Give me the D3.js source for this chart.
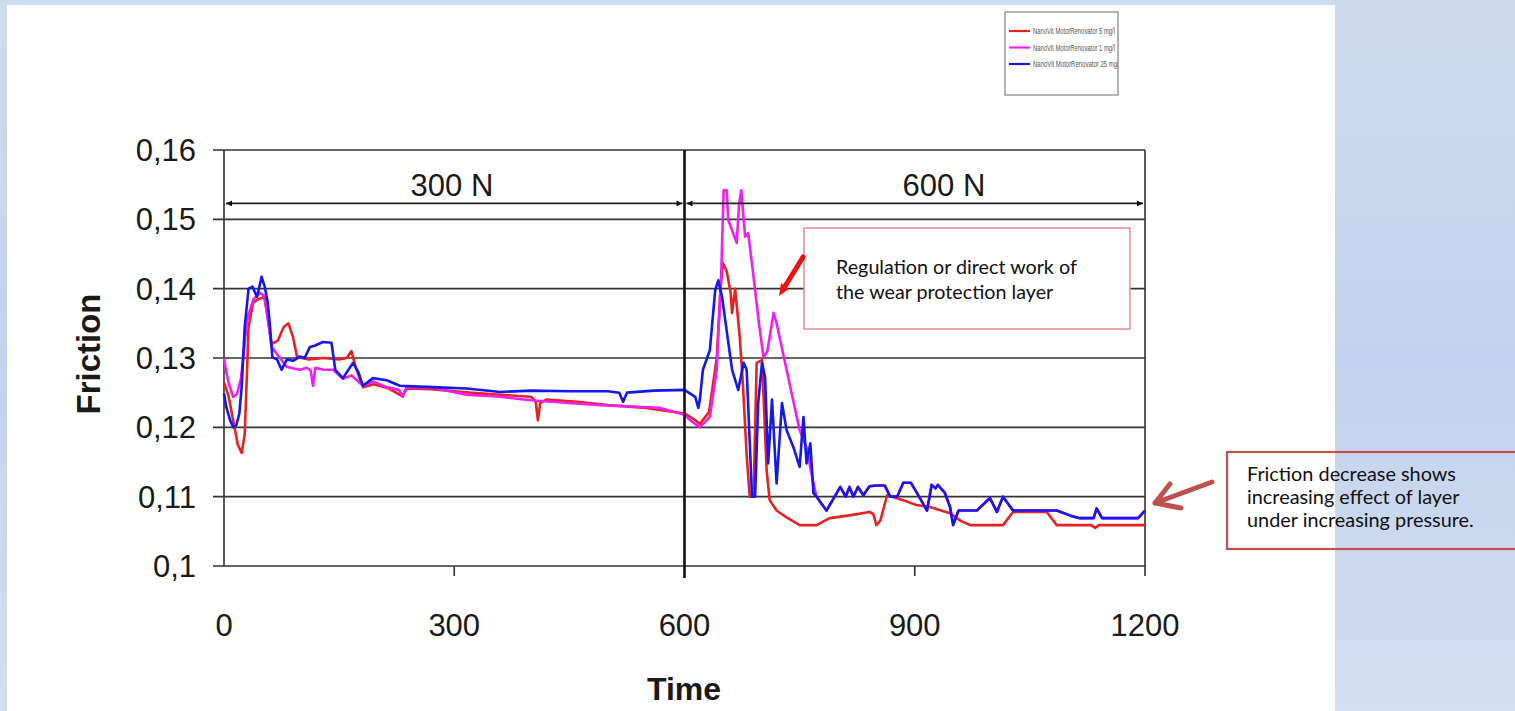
<!DOCTYPE html>
<html>
<head>
<meta charset="utf-8">
<script src="https://cdn.jsdelivr.net/npm/d3@7"></script>
<style>
  html, body { margin: 0; padding: 0; }
  body { width: 1515px; height: 711px; overflow: hidden; }
</style>
</head>
<body>
<script>
// Friction over time, three concentrations
const red5 = [[0,0.1265],[6,0.1245],[12,0.121],[18,0.1175],[23,0.1163],[27,0.119],[30,0.128],[32,0.1345],[38,0.138],[45,0.1385],[53,0.1388],[58,0.135],[62,0.132],[70,0.1325],[78,0.1345],[84,0.135],[90,0.133],[95,0.1302],[110,0.1298],[130,0.13],[150,0.1298],[160,0.13],[166,0.131],[172,0.1285],[181,0.1258],[195,0.1262],[215,0.1256],[232,0.1245],[238,0.1256],[270,0.1255],[320,0.125],[360,0.1247],[400,0.1244],[406,0.1238],[409,0.121],[412,0.1235],[420,0.124],[460,0.1237],[500,0.1232],[550,0.1228],[600,0.122],[612,0.1212],[620,0.1205],[632,0.1222],[642,0.13],[647,0.14],[650,0.1437],[655,0.1425],[660,0.1395],[662,0.1365],[666,0.14],[672,0.133],[676,0.1264],[681,0.116],[685,0.11],[690,0.11],[694,0.1293],[701,0.1297],[707,0.1138],[711,0.1095],[720,0.108],[733,0.107],[750,0.1059],[772,0.1059],[789,0.1069],[815,0.1073],[841,0.1078],[846,0.1075],[850,0.1059],[855,0.1065],[864,0.1102],[885,0.1095],[902,0.1088],[920,0.1085],[946,0.1076],[960,0.1065],[972,0.1059],[1015,0.1059],[1028,0.1078],[1072,0.1078],[1085,0.1059],[1130,0.1059],[1135,0.1055],[1140,0.1059],[1200,0.1059]];

const pink1 = [[0,0.13],[3,0.128],[6,0.1264],[12,0.1244],[17,0.1248],[22,0.127],[25,0.13],[30,0.1355],[38,0.1384],[47,0.1394],[52,0.139],[56,0.1365],[62,0.1316],[73,0.13],[82,0.1287],[99,0.1283],[108,0.1286],[113,0.1282],[116,0.126],[119,0.1286],[130,0.1283],[142,0.1283],[155,0.127],[166,0.1275],[181,0.126],[194,0.1266],[212,0.1258],[228,0.1254],[233,0.1244],[238,0.1258],[272,0.1257],[316,0.1247],[360,0.1244],[400,0.1239],[450,0.1235],[490,0.1232],[530,0.123],[568,0.1228],[600,0.1218],[610,0.1208],[620,0.12],[633,0.1215],[642,0.1283],[648,0.1427],[651,0.1542],[655,0.1542],[657,0.1499],[668,0.1466],[671,0.152],[674,0.1542],[679,0.1475],[683,0.148],[690,0.1417],[697,0.135],[703,0.1301],[708,0.131],[716,0.1365],[720,0.135],[733,0.1283],[750,0.1196],[759,0.1171],[766,0.113],[772,0.11],[785,0.108],[803,0.1114],[810,0.11],[815,0.1114],[820,0.11],[826,0.1114],[833,0.1102],[841,0.1115],[850,0.1116],[861,0.1116],[868,0.11],[877,0.11],[885,0.112],[895,0.112],[903,0.1105],[916,0.108],[922,0.1117],[927,0.1112],[930,0.1117],[939,0.1106],[946,0.1085],[950,0.1059],[957,0.108],[981,0.108],[998,0.1098],[1007,0.1078],[1015,0.11],[1028,0.108],[1085,0.108],[1102,0.1073],[1115,0.1069],[1133,0.1069],[1137,0.1083],[1144,0.1069],[1191,0.1069],[1200,0.108]];

const blue25 = [[0,0.1249],[3,0.1229],[8,0.121],[12,0.12],[16,0.1203],[20,0.122],[23,0.1258],[27,0.1345],[32,0.14],[37,0.1403],[43,0.1388],[49,0.1417],[53,0.1403],[57,0.138],[60,0.1345],[63,0.1301],[69,0.1298],[75,0.1283],[82,0.1298],[90,0.1296],[99,0.1302],[105,0.13],[112,0.1316],[119,0.1318],[129,0.1323],[140,0.1322],[145,0.1283],[155,0.1271],[168,0.1293],[175,0.128],[181,0.126],[194,0.1271],[212,0.1268],[229,0.126],[272,0.1258],[316,0.1256],[360,0.1251],[400,0.1253],[450,0.1252],[500,0.1252],[515,0.125],[520,0.1237],[525,0.125],[560,0.1253],[600,0.1254],[614,0.1244],[618,0.1228],[620,0.124],[624,0.1283],[633,0.1311],[640,0.1398],[644,0.1412],[649,0.1388],[653,0.1355],[662,0.1283],[670,0.1254],[677,0.1293],[681,0.1283],[688,0.11],[692,0.11],[696,0.1235],[701,0.1293],[705,0.1272],[709,0.1148],[714,0.124],[720,0.1119],[727,0.1235],[733,0.1196],[742,0.1171],[750,0.1143],[755,0.1215],[759,0.1148],[764,0.1177],[768,0.1105],[772,0.11],[785,0.108],[803,0.1114],[810,0.11],[815,0.1114],[820,0.11],[826,0.1114],[833,0.1102],[841,0.1115],[850,0.1116],[861,0.1116],[868,0.11],[877,0.11],[885,0.112],[895,0.112],[903,0.1105],[916,0.108],[922,0.1117],[927,0.1112],[930,0.1117],[939,0.1106],[946,0.1085],[950,0.1059],[957,0.108],[981,0.108],[998,0.1098],[1007,0.1078],[1015,0.11],[1028,0.108],[1085,0.108],[1102,0.1073],[1115,0.1069],[1133,0.1069],[1137,0.1083],[1144,0.1069],[1191,0.1069],[1200,0.108]];

const seriesNames = ["NanoVit MotorRenovator 5 mg/l", "NanoVit MotorRenovator 1 mg/l", "NanoVit MotorRenovator 25 mg/l"];
const seriesColors = ["#e8231f", "#f01ef0", "#1616f2"];
const xTicks = [0, 300, 600, 900, 1200];
const yTicks = [0.1, 0.11, 0.12, 0.13, 0.14, 0.15, 0.16];
const phases = [
  { label: "300 N", from: 0, to: 600, labelAt: 297 },
  { label: "600 N", from: 600, to: 1200, labelAt: 938 }
];
const note1 = ["Regulation or direct work of", "the wear protection layer"];
const note2 = ["Friction decrease shows", "increasing effect of layer", "under increasing pressure."];

const width = 1515, height = 711;

const svg = d3.select("body").append("svg")
  .attr("width", width)
  .attr("height", height)
  .style("display", "block");

// slide background + white picture area
const defs = svg.append("defs");
const grad = defs.append("linearGradient")
  .attr("id", "bg").attr("x1", 0).attr("y1", 0).attr("x2", 0).attr("y2", 1);
grad.append("stop").attr("offset", "0%").attr("stop-color", "#cfdcef");
grad.append("stop").attr("offset", "50%").attr("stop-color", "#c3d3ed");
grad.append("stop").attr("offset", "100%").attr("stop-color", "#d2ddf0");

svg.append("rect").attr("width", width).attr("height", height).attr("fill", "url(#bg)");
svg.append("rect").attr("x", 7).attr("y", 5).attr("width", 1328).attr("height", 706).attr("fill", "#fff");

// arrow heads for the load phases
defs.append("marker")
  .attr("id", "tri").attr("viewBox", "0 0 10 10")
  .attr("refX", 10).attr("refY", 5)
  .attr("markerWidth", 9).attr("markerHeight", 6)
  .attr("markerUnits", "userSpaceOnUse")
  .attr("orient", "auto-start-reverse")
  .append("path").attr("d", "M0,0L10,5L0,10Z").attr("fill", "#111");

// scales
const x = d3.scaleLinear().domain([0, 1200]).range([224, 1145]);
const y = d3.scaleLinear().domain([0.1, 0.16]).range([566, 150]);

const fmt = v => String(v).replace(".", ",");

// horizontal grid lines (with small ticks on the left)
svg.append("g")
  .selectAll("line")
  .data(yTicks)
  .join("line")
  .attr("x1", x(0) - 11)
  .attr("x2", x(1200))
  .attr("y1", d => y(d))
  .attr("y2", d => y(d))
  .attr("stroke", "#333")
  .attr("stroke-width", 1.6);

// left / right frame
svg.append("g")
  .selectAll("line")
  .data([0, 1200])
  .join("line")
  .attr("x1", d => x(d)).attr("x2", d => x(d))
  .attr("y1", y(0.16)).attr("y2", d => y(0.1) + (d === 0 ? 0 : 10))
  .attr("stroke", "#333")
  .attr("stroke-width", 1.6);

// x ticks
svg.append("g")
  .selectAll("line")
  .data(xTicks.filter(d => d !== 0 && d !== 600 && d !== 1200))
  .join("line")
  .attr("x1", d => x(d)).attr("x2", d => x(d))
  .attr("y1", y(0.1)).attr("y2", y(0.1) + 10)
  .attr("stroke", "#333")
  .attr("stroke-width", 1.6);

// y tick labels
svg.append("g")
  .selectAll("text")
  .data(yTicks)
  .join("text")
  .attr("x", 196)
  .attr("y", d => y(d))
  .attr("dy", "0.36em")
  .attr("text-anchor", "end")
  .style("font-family", "'Liberation Sans', Arial, sans-serif")
  .style("font-size", "31px")
  .style("fill", "#1a1a1a")
  .text(fmt);

// x tick labels
svg.append("g")
  .selectAll("text")
  .data(xTicks)
  .join("text")
  .attr("x", d => x(d))
  .attr("y", 636)
  .attr("text-anchor", "middle")
  .style("font-family", "'Liberation Sans', Arial, sans-serif")
  .style("font-size", "31px")
  .style("fill", "#1a1a1a")
  .text(d => d);

// axis titles
svg.append("text")
  .attr("x", 684).attr("y", 700)
  .attr("text-anchor", "middle")
  .style("font-family", "'Liberation Sans', Arial, sans-serif")
  .style("font-weight", "bold")
  .style("font-size", "32px")
  .style("fill", "#1a1a1a")
  .text("Time");

svg.append("text")
  .attr("transform", "translate(100,354) rotate(-90)")
  .attr("text-anchor", "middle")
  .style("font-family", "'Liberation Sans', Arial, sans-serif")
  .style("font-weight", "bold")
  .style("font-size", "33px")
  .style("fill", "#1a1a1a")
  .text("Friction");

// series lines
const line = d3.line().x(d => x(d[0])).y(d => y(d[1]));
svg.append("g")
  .selectAll("path")
  .data([red5, pink1, blue25])
  .join("path")
  .attr("d", line)
  .attr("fill", "none")
  .attr("stroke", (d, i) => seriesColors[i])
  .attr("stroke-width", 2.6)
  .attr("stroke-linejoin", "round");

// load change divider at 600
svg.append("line")
  .attr("x1", x(600)).attr("x2", x(600))
  .attr("y1", y(0.16)).attr("y2", y(0.1) + 12)
  .attr("stroke", "#111")
  .attr("stroke-width", 2.6);

// load phase arrows and labels
const arrowY = y(0.1523);
const ph = svg.append("g");
ph.selectAll("line")
  .data(phases)
  .join("line")
  .attr("x1", d => x(d.from) + 2)
  .attr("x2", d => x(d.to) - 2)
  .attr("y1", arrowY).attr("y2", arrowY)
  .attr("stroke", "#222")
  .attr("stroke-width", 1.6)
  .attr("marker-start", "url(#tri)")
  .attr("marker-end", "url(#tri)");
ph.selectAll("text")
  .data(phases)
  .join("text")
  .attr("x", d => x(d.labelAt))
  .attr("y", arrowY - 7)
  .attr("text-anchor", "middle")
  .style("font-family", "'Liberation Sans', Arial, sans-serif")
  .style("font-size", "31px")
  .style("fill", "#1a1a1a")
  .text(d => d.label);

// legend (text is cut by the box edge, as in the original)
defs.append("clipPath").attr("id", "lgclip")
  .append("rect").attr("x", 1005).attr("y", 12).attr("width", 113).attr("height", 83);
const lg = svg.append("g");
lg.append("rect")
  .attr("x", 1005).attr("y", 12).attr("width", 113).attr("height", 83)
  .attr("fill", "#fff").attr("stroke", "#999").attr("stroke-width", 1.5);
const lgItem = lg.append("g")
  .attr("clip-path", "url(#lgclip)")
  .selectAll("g")
  .data(seriesNames)
  .join("g")
  .attr("transform", (d, i) => `translate(1009,${31 + i * 16.5})`);
lgItem.append("line")
  .attr("x1", 0).attr("x2", 21)
  .attr("stroke", (d, i) => seriesColors[i])
  .attr("stroke-width", 2.2);
lgItem.append("text")
  .attr("x", 24).attr("dy", "0.35em")
  .attr("textLength", (d, i) => i === 2 ? 87 : 82)
  .attr("lengthAdjust", "spacingAndGlyphs")
  .style("font-family", "'Liberation Sans', Arial, sans-serif")
  .style("font-size", "9.5px")
  .style("fill", "#555")
  .text(d => d);

// annotation text helper: fit line to measured width
function noteLines(g, lines, x0, y0, step, targetWidth) {
  const t = g.selectAll("text")
    .data(lines)
    .join("text")
    .attr("x", x0)
    .attr("y", (d, i) => y0 + i * step)
    .style("font-family", "Lato, 'Open Sans', sans-serif")
    .style("font-size", "16px")
    .style("fill", "#111")
    .text(d => d);
  const w = d3.max(t.nodes(), n => n.getComputedTextLength());
  t.style("font-size", (16 * targetWidth / w).toFixed(2) + "px");
}

// note 1 with red arrow
const n1 = svg.append("g");
n1.append("rect")
  .attr("x", 804).attr("y", 228).attr("width", 326).attr("height", 101)
  .attr("fill", "#fff").attr("stroke", "#e58a8a").attr("stroke-width", 1.5);
noteLines(n1, note1, 836, 274, 25, 241);
n1.append("path")
  .attr("d", "M803,257 L784,288")
  .attr("stroke", "#f01010").attr("stroke-width", 5).attr("stroke-linecap", "round");
n1.append("path")
  .attr("d", "M779,296 L781,283 L789,289 Z")
  .attr("fill", "#f01010");

// note 2 with arrow pointing to the curve end
const n2 = svg.append("g");
n2.append("rect")
  .attr("x", 1227).attr("y", 452).attr("width", 300).attr("height", 97)
  .attr("fill", "none").attr("stroke", "#c0504d").attr("stroke-width", 2.2);
noteLines(n2, note2, 1247, 481, 23, 227);
n2.append("path")
  .attr("d", "M1212,482 L1155,503 M1155,503 L1170,484 M1155,503 L1181,508")
  .attr("stroke", "#c0504d").attr("stroke-width", 5).attr("stroke-linecap", "round")
  .attr("fill", "none");
</script>
</body>
</html>
